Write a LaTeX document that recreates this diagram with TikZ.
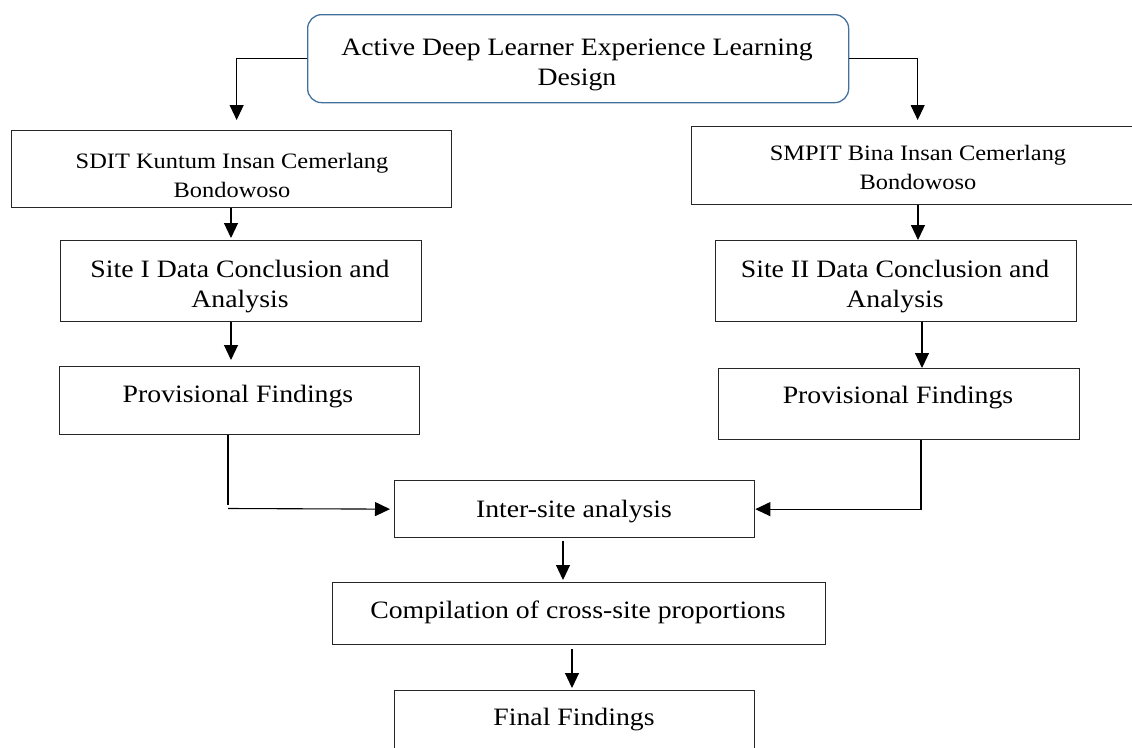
\documentclass[tikz,border=0pt]{standalone}
\usepackage{fontspec}
\setmainfont{Liberation Serif}[FakeStretch=1.11]
\usetikzlibrary{arrows.meta}
\definecolor{boxblue}{RGB}{65,113,156}
\begin{document}
\begin{tikzpicture}[x=1pt,y=-1pt,
  box/.style={draw=black!85, line width=1.3pt, rectangle, inner sep=0pt, anchor=north west},
  roundbox/.style={draw=boxblue, line width=1.3pt, rectangle, rounded corners=14pt, inner sep=0pt, anchor=north west},
  big/.style={font=\fontsize{25}{30}\selectfont, align=center, anchor=base, inner sep=0pt},
  small/.style={font=\fontsize{22}{29}\selectfont, align=center, anchor=base, inner sep=0pt},
  conn/.style={draw=black, line width=1.1pt},
  arr/.style={conn, -{Triangle[length=15pt,width=14pt]}}]
\useasboundingbox (0,0) rectangle (1132,747);
\clip (0,0) rectangle (1132,747);

% boxes
\node[roundbox, minimum width=541pt, minimum height=88pt] (top) at (307,14) {};
\node[box, minimum width=440pt, minimum height=77pt] (sdit) at (11,130) {};
\node[box, minimum width=460pt, minimum height=78pt] (smpit) at (691,126) {};
\node[box, minimum width=361pt, minimum height=81pt] (site1) at (60,240) {};
\node[box, minimum width=361pt, minimum height=81pt] (site2) at (715,240) {};
\node[box, minimum width=360pt, minimum height=68pt] (prov1) at (59,366) {};
\node[box, minimum width=361pt, minimum height=71pt] (prov2) at (718,368) {};
\node[box, minimum width=360pt, minimum height=57pt] (inter) at (394,480) {};
\node[box, minimum width=493pt, minimum height=62pt] (comp) at (332,582) {};
\node[box, minimum width=360pt, minimum height=80pt] (final) at (394,690) {};

% texts (base anchor = baseline of the last line)
\node[big] (ttop) at (577,85) {Active Deep Learner Experience Learning\\Design};
\node[small] (tsdit) at (232,197) {SDIT Kuntum Insan Cemerlang\\Bondowoso};
\node[small] (tsmpit) at (918,189) {SMPIT Bina Insan Cemerlang\\Bondowoso};
\node[big] (tsite1) at (240,307) {Site I Data Conclusion and\\Analysis};
\node[big] (tsite2) at (895,307) {Site II Data Conclusion and\\Analysis};
\node[big] (tprov1) at (238,402) {Provisional Findings};
\node[big] (tprov2) at (898,403) {Provisional Findings};
\node[big] (tinter) at (574,517) {Inter-site analysis};
\node[big] (tcomp) at (578,618) {Compilation of cross-site proportions};
\node[big] (tfinal) at (574,725) {Final Findings};

% connector columns
\coordinate (xL) at (231,0);
\coordinate (xS) at (918,0);
\coordinate (xS2) at (922,0);
\coordinate (xR) at (921,0);
\coordinate (xC) at (563,0);
\coordinate (xF) at (572,0);
\coordinate (jl) at (228,508.5);

% connectors
\draw[arr, shorten >=10pt] (top.west) -| ([xshift=5pt]sdit.north);
\draw[arr, shorten >=6pt] (top.east) -| ([xshift=-4pt]smpit.north);
\draw[arr, shorten >=2pt] (sdit.south -| xL) -- (site1.north -| xL);
\draw[arr, shorten >=6pt] (site1.south -| xL) -- (prov1.north -| xL);
\draw[arr] (smpit.south -| xS) -- (site2.north -| xS);
\draw[arr] (site2.south -| xS2) -- (prov2.north -| xS2);
\draw[conn] (prov1.south -| jl) -- ++(0,70);
\draw[arr, shorten >=4pt] (jl) -- (inter.west);
\draw[arr] (prov2.south -| xR) |- (inter.east);
\draw[arr, shorten <=3pt, shorten >=2pt] (inter.south -| xC) -- (comp.north -| xC);
\draw[arr, shorten <=4pt, shorten >=2pt] (comp.south -| xF) -- (final.north -| xF);
\end{tikzpicture}
\end{document}
